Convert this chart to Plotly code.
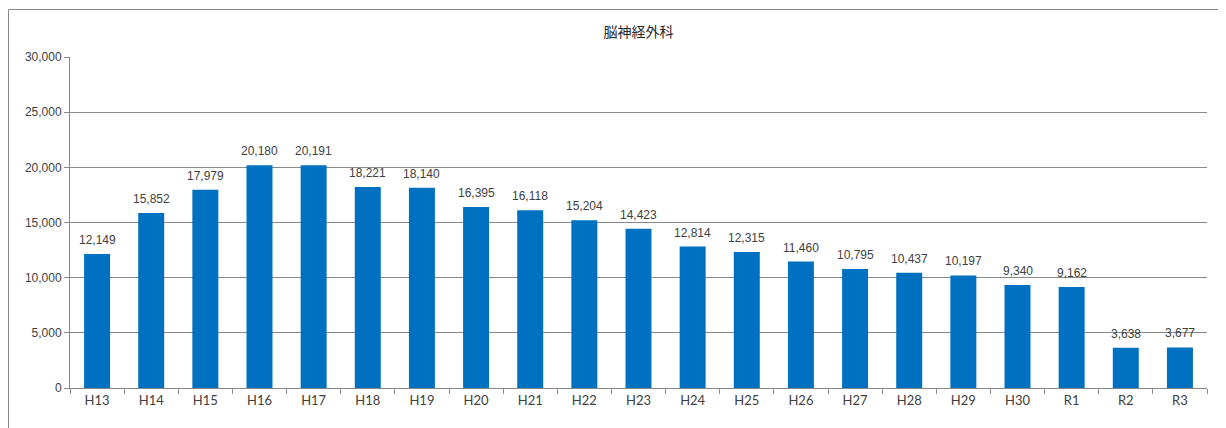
import plotly.graph_objects as go

categories = ["H13", "H14", "H15", "H16", "H17", "H18", "H19", "H20", "H21", "H22", "H23",
              "H24", "H25", "H26", "H27", "H28", "H29", "H30", "R1", "R2", "R3"]
values = [12149, 15852, 17979, 20180, 20191, 18221, 18140, 16395, 16118, 15204, 14423,
          12814, 12315, 11460, 10795, 10437, 10197, 9340, 9162, 3638, 3677]
y_ticks = [0, 5000, 10000, 15000, 20000, 25000, 30000]
title_text = "脳神経外科"

# page body has an 8px margin; compensate so the plot sits where it does in the reference
OFF = 8
W, H = 1226 - OFF, 428 - OFF
L, T = 70 - OFF, 57 - OFF
R = W - (1207 - OFF)
B = H - (388 - OFF)
pw, ph = W - L - R, H - T - B

NUMFONT = "Liberation Sans, Arial"

fig = go.Figure(go.Bar(
    x=categories, y=values,
    marker=dict(color="#0070C0", line=dict(width=0)),
    hoverinfo="x+y",
))

annotations = [
    dict(x=c, y=v, xref="x", yref="y", text=f"{v:,}", showarrow=False,
         yanchor="bottom", yshift=5,
         font=dict(family=NUMFONT, size=12, color="#404040"))
    for c, v in zip(categories, values)
]


def px_x(p):
    return (p - OFF - L) / pw


def px_y(p):
    return (H - B - (p - OFF)) / ph


border = dict(color="#898989", width=1)
fig.update_layout(
    width=W, height=H,
    margin=dict(l=L, r=R, t=T, b=B),
    paper_bgcolor="white", plot_bgcolor="white",
    bargap=0.52,
    showlegend=False,
    annotations=annotations,
    title=dict(text=title_text, x=0.5, xref="paper", xanchor="center",
               y=1 - (32 - OFF) / H, yanchor="middle",
               font=dict(family="Noto Sans CJK JP", size=14, color="#262626")),
    xaxis=dict(type="category", showline=True, linecolor="#898989", linewidth=1,
               ticks="outside", tickson="boundaries", ticklen=5, tickcolor="#898989",
               tickfont=dict(family="Lato, Liberation Sans", size=13, color="#404040"),
               showgrid=False),
    yaxis=dict(range=[0, 30000], tickvals=y_ticks, tickformat=",",
               showline=True, linecolor="#898989", linewidth=1,
               ticks="outside", ticklen=5, tickcolor="#898989",
               showgrid=True, gridcolor="#898989", gridwidth=1,
               zeroline=False,
               tickfont=dict(family=NUMFONT, size=12, color="#404040")),
    shapes=[
        dict(type="line", xref="paper", yref="paper",
             x0=px_x(8.5), x1=px_x(1240), y0=px_y(9.5), y1=px_y(9.5), line=border, layer="below"),
        dict(type="line", xref="paper", yref="paper",
             x0=px_x(8.5), x1=px_x(8.5), y0=px_y(9.5), y1=px_y(440), line=border, layer="below"),
    ],
)

fig.write_html("out.html")
